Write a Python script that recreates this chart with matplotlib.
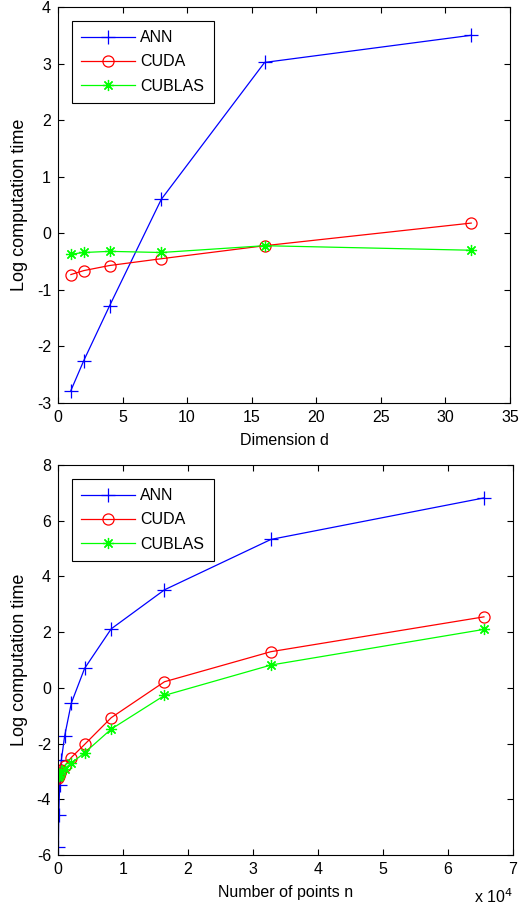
import matplotlib
matplotlib.use("Agg")
import matplotlib.pyplot as plt
from matplotlib.ticker import FuncFormatter

plt.rcParams["font.family"] = ["Liberation Sans", "DejaVu Sans"]
plt.rcParams["font.size"] = 11.5
plt.rcParams["axes.unicode_minus"] = False

# top panel: dimension d
dims = [1, 2, 4, 8, 16, 32]
ann_d = [-2.78, -2.25, -1.28, 0.60, 3.02, 3.50]
cuda_d = [-0.73, -0.66, -0.57, -0.45, -0.22, 0.18]
cublas_d = [-0.37, -0.34, -0.32, -0.34, -0.22, -0.30]

# bottom panel: number of points n
npts = [64, 128, 256, 512, 1024, 2048, 4096, 8192, 16384, 32768, 65536]
ann_n = [-5.70, -4.55, -3.50, -2.60, -1.73, -0.55, 0.70, 2.12, 3.52, 5.33, 6.82]
cuda_n = [-3.25, -3.15, -3.05, -2.95, -2.80, -2.50, -2.03, -1.07, 0.22, 1.30, 2.55]
cublas_n = [-3.20, -3.15, -3.10, -3.00, -2.90, -2.70, -2.33, -1.48, -0.27, 0.82, 2.10]

LINE = dict(linewidth=0.9, markeredgewidth=0.9)
ASTERISK = (8, 2, 0)


def style_axis(ax):
    ax.tick_params(direction="in", top=True, right=True, length=4, width=0.8, pad=5)
    for side in ax.spines.values():
        side.set_linewidth(0.8)
    ax.set_ylabel("Log computation time", fontsize=13, labelpad=6)


def draw_series(ax, x, ann, cuda, cublas):
    ax.plot(x, ann, color="#0000ff", marker="+", markersize=10, label="ANN", **LINE)
    ax.plot(x, cuda, color="#ff0000", marker="o", markersize=8,
            markerfacecolor="none", label="CUDA", **LINE)
    ax.plot(x, cublas, color="#00ff00", marker=ASTERISK, markersize=8,
            label="CUBLAS", **LINE)
    leg = ax.legend(loc="upper left", fancybox=False, edgecolor="black",
                    framealpha=1, handlelength=3.4, borderaxespad=0.85,
                    labelspacing=0.58, borderpad=0.6, handletextpad=0.3)
    leg.get_frame().set_linewidth(0.8)


fig = plt.figure(figsize=(5.29, 9.09), dpi=100)

ax1 = fig.add_axes([0.1096, 0.5567, 0.8544, 0.4356])
draw_series(ax1, dims, ann_d, cuda_d, cublas_d)
ax1.set_xlim(0, 35)
ax1.set_ylim(-3, 4)
ax1.set_xticks(range(0, 36, 5))
ax1.set_yticks(range(-3, 5))
ax1.set_xlabel("Dimension d", labelpad=6)
style_axis(ax1)

ax2 = fig.add_axes([0.1096, 0.0594, 0.8601, 0.4290])
draw_series(ax2, npts, ann_n, cuda_n, cublas_n)
ax2.set_xlim(0, 70000)
ax2.set_ylim(-6, 8)
ax2.set_xticks(range(0, 70001, 10000))
ax2.set_yticks(range(-6, 9, 2))
ax2.xaxis.set_major_formatter(FuncFormatter(lambda v, p: f"{v / 1e4:g}"))
ax2.set_xlabel("Number of points n", labelpad=6)
ax2.text(1.0, -0.108, "x 10$^4$", transform=ax2.transAxes, ha="right", va="center")
style_axis(ax2)

fig.savefig("out.png", dpi=100)
